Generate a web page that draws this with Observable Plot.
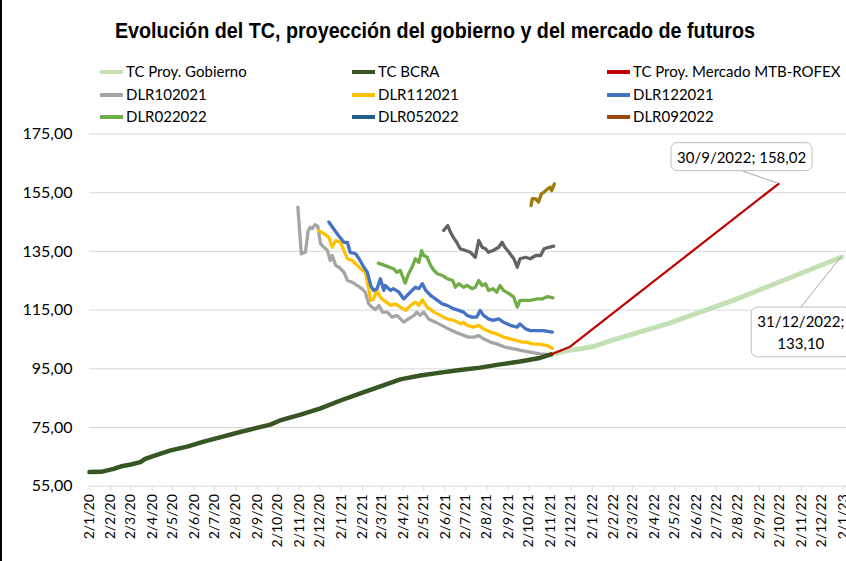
<!DOCTYPE html>
<html><head><meta charset="utf-8">
<script src="https://cdn.jsdelivr.net/npm/d3@7"></script>
<script src="https://cdn.jsdelivr.net/npm/@observablehq/plot@0.6"></script>
<style>
html,body{margin:0;padding:0;background:#fff;}
body{width:846px;height:561px;overflow:hidden;font-family:Lato,"Noto Sans",sans-serif;position:relative;}
#edge{position:absolute;left:0;top:0;width:1.5px;height:561px;background:#000;z-index:5;}
#head{position:relative;height:120px;}
#title{position:absolute;left:24px;width:822px;top:18px;text-align:center;font-family:"Liberation Sans",Arial,sans-serif;font-weight:bold;font-size:22px;line-height:26px;color:#000;}
#title span{display:inline-block;white-space:nowrap;transform-origin:50% 50%;}
.li{position:absolute;height:20px;line-height:20px;font-size:15px;color:#000;white-space:nowrap;}
.li .sw{display:inline-block;width:23px;height:4px;vertical-align:middle;margin-right:3px;position:relative;top:-1px;}
#chart svg{display:block;}
</style>
</head><body>
<div id="edge"></div>
<div id="head"><div id="title"><span id="tt">Evolución del TC, proyección del gobierno y del mercado de futuros</span></div></div>
<div id="chart"></div>
<script>
// ---- data ----
const bcra = [["2020-01-02",59.8],["2020-01-19",59.9],["2020-02-06",60.9],["2020-02-16",61.7],["2020-03-02",62.4],["2020-03-16",63.2],["2020-03-23",64.3],["2020-04-09",65.7],["2020-04-29",67.2],["2020-05-23",68.5],["2020-06-16",70.2],["2020-07-11",71.7],["2020-08-04",73.2],["2020-08-28",74.6],["2020-09-21",76.0],["2020-10-05",77.4],["2020-11-04",79.4],["2020-12-03",81.5],["2021-01-01",84.2],["2021-01-30",86.6],["2021-02-28",89.0],["2021-03-29",91.4],["2021-04-27",92.7],["2021-05-26",93.7],["2021-06-24",94.6],["2021-07-23",95.4],["2021-08-21",96.5],["2021-09-19",97.5],["2021-10-18",98.7],["2021-11-03",99.9]];
const gobierno = [["2021-11-03",99.9],["2021-11-27",101.2],["2021-12-16",101.8],["2022-01-04",102.6],["2022-01-29",104.6],["2022-03-03",106.9],["2022-04-21",110.3],["2022-06-08",114.3],["2022-07-26",118.3],["2022-09-12",122.8],["2022-10-31",127.4],["2022-12-18",131.9],["2022-12-31",133.1]];
const mercado = [["2021-11-03",99.9],["2021-11-30",102.4],["2022-09-30",158.02]];
const dlr102021 = [["2020-10-31",150.1],["2020-11-05",134.2],["2020-11-11",134.7],["2020-11-15",142.1],["2020-11-18",143.2],["2020-11-21",142.8],["2020-11-25",144.1],["2020-11-29",143.5],["2020-12-03",137.6],["2020-12-08",136.4],["2020-12-13",135.3],["2020-12-17",131.9],["2020-12-20",133.6],["2020-12-25",130.2],["2020-12-30",129.6],["2021-01-06",127.9],["2021-01-11",125.1],["2021-01-18",124.5],["2021-01-25",123.4],["2021-02-01",122.3],["2021-02-06",121.1],["2021-02-11",117.1],["2021-02-16",115.9],["2021-02-21",115.2],["2021-02-26",116.6],["2021-03-03",114.3],["2021-03-10",114.3],["2021-03-17",112.6],["2021-03-24",113.2],["2021-04-03",110.9],["2021-04-10",112.0],["2021-04-18",113.2],["2021-04-22",114.3],["2021-04-27",113.2],["2021-05-02",114.3],["2021-05-09",112.0],["2021-05-19",110.9],["2021-05-29",109.7],["2021-06-07",108.6],["2021-06-17",107.5],["2021-06-27",106.6],["2021-07-06",105.8],["2021-07-14",105.8],["2021-07-21",106.3],["2021-07-28",105.2],["2021-08-07",104.1],["2021-08-16",103.5],["2021-08-28",102.4],["2021-09-10",101.8],["2021-09-22",101.2],["2021-10-04",100.7],["2021-10-18",100.1],["2021-10-31",99.8]];
const dlr112021 = [["2020-11-30",142.1],["2020-12-08",141.0],["2020-12-15",139.8],["2020-12-20",136.4],["2020-12-25",138.7],["2021-01-01",138.1],["2021-01-06",135.3],["2021-01-11",132.5],["2021-01-18",131.9],["2021-01-23",130.8],["2021-01-30",129.1],["2021-02-06",127.9],["2021-02-11",122.3],["2021-02-14",118.3],["2021-02-18",118.8],["2021-02-23",121.7],["2021-02-28",119.4],["2021-03-05",118.3],["2021-03-15",116.6],["2021-03-22",117.1],["2021-03-29",116.0],["2021-04-06",114.9],["2021-04-13",116.6],["2021-04-20",117.7],["2021-04-25",116.6],["2021-04-30",118.5],["2021-05-07",116.0],["2021-05-17",114.3],["2021-05-26",113.2],["2021-06-05",112.0],["2021-06-15",111.5],["2021-06-25",110.3],["2021-06-29",110.9],["2021-07-04",109.8],["2021-07-14",109.2],["2021-07-21",109.8],["2021-07-28",108.6],["2021-08-07",107.5],["2021-08-16",106.9],["2021-08-26",105.8],["2021-09-05",105.2],["2021-09-15",104.6],["2021-09-22",104.1],["2021-09-29",104.1],["2021-10-07",103.5],["2021-10-19",103.3],["2021-10-29",102.9],["2021-11-05",102.0]];
const dlr122021 = [["2020-12-15",145.0],["2020-12-22",142.7],["2020-12-29",140.4],["2021-01-06",138.1],["2021-01-11",138.1],["2021-01-15",134.7],["2021-01-23",134.2],["2021-01-28",132.5],["2021-02-04",129.6],["2021-02-09",127.9],["2021-02-14",123.4],["2021-02-18",121.7],["2021-02-23",122.3],["2021-02-28",125.7],["2021-03-05",121.7],["2021-03-07",123.4],["2021-03-15",121.7],["2021-03-19",122.3],["2021-03-27",121.1],["2021-04-03",118.8],["2021-04-08",120.0],["2021-04-15",121.7],["2021-04-20",122.8],["2021-04-25",122.3],["2021-04-30",124.0],["2021-05-05",121.7],["2021-05-12",120.0],["2021-05-22",118.3],["2021-05-29",117.1],["2021-06-05",116.6],["2021-06-15",115.4],["2021-06-22",114.9],["2021-06-29",114.3],["2021-07-04",113.2],["2021-07-11",112.6],["2021-07-18",112.6],["2021-07-23",114.9],["2021-07-28",113.2],["2021-08-04",112.0],["2021-08-11",111.5],["2021-08-19",112.0],["2021-08-26",110.9],["2021-09-05",109.8],["2021-09-15",109.2],["2021-09-19",110.3],["2021-09-27",108.6],["2021-10-04",108.0],["2021-10-14",108.0],["2021-10-23",108.0],["2021-11-05",107.5]];
const dlr022022 = [["2021-02-25",131.0],["2021-03-10",129.9],["2021-03-19",129.1],["2021-03-24",127.9],["2021-03-29",128.5],["2021-04-05",124.2],["2021-04-10",127.4],["2021-04-15",129.6],["2021-04-20",132.5],["2021-04-25",131.3],["2021-04-29",135.3],["2021-05-02",133.6],["2021-05-07",133.0],["2021-05-12",130.2],["2021-05-17",128.5],["2021-05-22",127.4],["2021-05-29",126.8],["2021-06-05",125.7],["2021-06-13",125.1],["2021-06-17",122.8],["2021-06-22",124.0],["2021-06-29",122.8],["2021-07-04",123.4],["2021-07-11",122.3],["2021-07-16",122.8],["2021-07-21",125.1],["2021-07-26",123.4],["2021-07-31",124.0],["2021-08-04",121.7],["2021-08-11",122.3],["2021-08-16",121.1],["2021-08-21",123.4],["2021-08-26",121.7],["2021-09-03",120.6],["2021-09-10",119.4],["2021-09-15",116.0],["2021-09-19",118.3],["2021-09-27",118.3],["2021-10-04",118.3],["2021-10-14",118.8],["2021-10-21",118.8],["2021-10-29",119.6],["2021-11-06",119.2]];
const dlr052022 = [["2021-05-31",142.1],["2021-06-06",143.8],["2021-06-10",141.5],["2021-06-14",139.8],["2021-06-19",138.1],["2021-06-24",135.9],["2021-07-02",135.3],["2021-07-09",134.7],["2021-07-16",133.0],["2021-07-21",138.7],["2021-07-26",136.4],["2021-07-31",135.9],["2021-08-04",134.7],["2021-08-11",135.3],["2021-08-19",136.4],["2021-08-24",138.1],["2021-08-28",136.4],["2021-09-03",134.7],["2021-09-10",132.5],["2021-09-15",129.6],["2021-09-19",132.5],["2021-09-27",133.0],["2021-10-04",132.5],["2021-10-12",133.6],["2021-10-19",133.6],["2021-10-24",135.9],["2021-10-31",136.4],["2021-11-07",136.8]];
const dlr092022 = [["2021-10-05",150.6],["2021-10-07",153.0],["2021-10-12",152.9],["2021-10-16",151.8],["2021-10-20",154.6],["2021-10-24",155.2],["2021-10-29",156.3],["2021-11-02",156.9],["2021-11-04",155.7],["2021-11-08",158.0]];

const legendNames = ["TC Proy. Gobierno","TC BCRA","TC Proy. Mercado MTB-ROFEX","DLR102021","DLR112021","DLR122021","DLR022022","DLR052022","DLR092022"];
const legendColors = ["#C5E0B4","#375623","#C00000","#A5A5A5","#FFC000","#4472C4","#70AD47","#255E91","#9E480E"];
const yTicks = [55,75,95,115,135,155,175];
const annotDates = ["2022-09-30","2022-12-31"];
const annotValues = [158.02,133.10];
const annotLabels = ["30/9/2022; 158,02","31/12/2022;\n133,10"];

// ---- title: condensed to the reference width ----
const tt = document.getElementById("tt");
tt.style.transform = `scaleX(${640 / tt.getBoundingClientRect().width})`;

// ---- legend ----
const colX = [100,352,607], rowY = [71,94,116];
const head = document.getElementById("head");
legendNames.forEach((n,i)=>{
  const d = document.createElement("div");
  d.className = "li";
  d.style.left = colX[i%3]+"px";
  d.style.top = (rowY[Math.floor(i/3)]-10)+"px";
  d.innerHTML = `<span class="sw" style="background:${legendColors[i]}"></span>${n}`;
  head.appendChild(d);
});

// ---- chart ----
const parse = d3.utcParse("%Y-%m-%d");
const rows = arr => arr.map(([d,v]) => ({date: parse(d), value: v}));
const tickDates = d3.utcMonth.range(parse("2020-01-01"), parse("2023-01-02")).map(d => d3.utcDay.offset(d,1));
const fmtX = d3.utcFormat("%-d/%-m/%y");
const fmtY = d => d.toFixed(2).replace(".", ",");
const lineOpts = (stroke, w) => ({x:"date", y:"value", stroke, strokeWidth:w, strokeLinejoin:"round", strokeLinecap:"round"});
const annots = annotDates.map((d,i)=>({date: parse(d), value: annotValues[i], label: annotLabels[i]}));

const chart = Plot.plot({
  width: 846, height: 441,
  marginLeft: 89, marginRight: 3.3, marginTop: 13.5, marginBottom: 75.3,
  style: {fontFamily: "Lato, 'Noto Sans', sans-serif", background: "transparent", overflow: "visible", color:"#000"},
  x: {type: "utc", domain: [parse("2020-01-02"), parse("2023-01-02")], label: null},
  y: {domain: [55, 175], label: null},
  marks: [
    Plot.gridY(yTicks, {stroke: "#d9d9d9", strokeOpacity: 1, strokeWidth: 1, insetRight: -4}),
    Plot.axisY(yTicks, {tickSize: 0, tickPadding: 17, tickFormat: fmtY, fontSize: 16, fill: "#000", label: null}),
    Plot.axisX(tickDates, {tickSize: 5, tickPadding: 3, tickRotate: -90, tickFormat: fmtX, fontSize: 14, stroke: "#d9d9d9", fill: "#000", label: null}),
    Plot.line(rows(gobierno), lineOpts("#C5E0B4", 5)),
    Plot.line(rows(dlr102021), lineOpts("#A5A5A5", 3.3)),
    Plot.line(rows(dlr112021), lineOpts("#FFC000", 3.3)),
    Plot.line(rows(dlr122021), lineOpts("#4472C4", 3.3)),
    Plot.line(rows(dlr022022), lineOpts("#70AD47", 3.3)),
    Plot.line(rows(dlr052022), lineOpts("#636363", 3.3)),
    Plot.line(rows(dlr092022), lineOpts("#A07A0A", 3.3)),
    Plot.line(rows(bcra), lineOpts("#375623", 4.5)),
    Plot.line(rows(mercado), lineOpts("#C00000", 2.2)),
    Plot.text([annots[0]], {x:"date", y:"value", text:"label", dx:-37, dy:-26, fontSize:15, fill:"#000", className:"annot"}),
    Plot.text([annots[1]], {x:"date", y:"value", text:"label", dx:-41, dy:74, fontSize:15, lineHeight:1.45, fill:"#000", className:"annot"})
  ]
});
document.getElementById("chart").append(chart);

// ---- annotation boxes and leader lines ----
const sx = chart.scale("x"), sy = chart.scale("y");
const svgR = chart.getBoundingClientRect();
const padX = 6, padY = 5;
d3.select(chart).selectAll("g.annot text").each(function(d, i){
  const b = this.getBoundingClientRect();
  const x0 = b.left - svgR.left - padX, y0 = b.top - svgR.top - padY;
  const w = b.width + 2*padX, h = b.height + 2*padY;
  const a = annots[i];
  const px = sx.apply(a.date), py = sy.apply(a.value);
  const cx = x0 + w/2;
  const ey = py > y0 + h ? y0 + h : y0;
  const g = this.parentNode;
  const ns = "http://www.w3.org/2000/svg";
  const ln = document.createElementNS(ns, "line");
  ln.setAttribute("x1", cx); ln.setAttribute("y1", ey);
  ln.setAttribute("x2", px); ln.setAttribute("y2", py);
  ln.setAttribute("stroke", "#a6a6a6"); ln.setAttribute("stroke-width", "1");
  const rc = document.createElementNS(ns, "rect");
  rc.setAttribute("x", x0); rc.setAttribute("y", y0);
  rc.setAttribute("width", w); rc.setAttribute("height", h);
  rc.setAttribute("rx", 6); rc.setAttribute("fill", "#fff");
  rc.setAttribute("stroke", "#bfbfbf"); rc.setAttribute("stroke-width", "1");
  g.parentNode.insertBefore(ln, g);
  g.parentNode.insertBefore(rc, g);
});
</script>
</body></html>
